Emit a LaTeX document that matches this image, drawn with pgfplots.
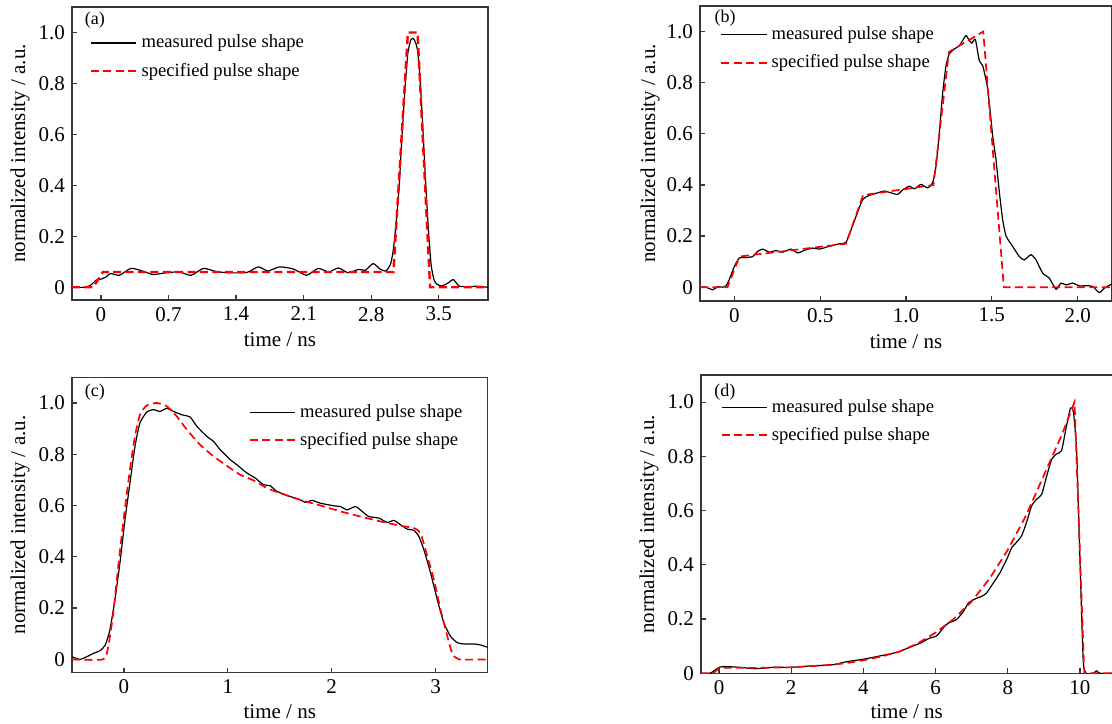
\documentclass[border=0pt]{standalone}
\usepackage{fontspec}
\setmainfont{Liberation Serif}
\usepackage{pgfplots}
\pgfplotsset{compat=1.18}
\definecolor{axisgray}{RGB}{55,55,55}
\pgfplotsset{
  panel/.style={
    scale only axis,
    anchor=south west,
    axis line style={axisgray, line width=0.6pt},
    tick style={axisgray, line width=0.6pt},
    tick align=inside,
    major tick length=2.5pt,
    xtick pos=bottom, ytick pos=left,
    tick label style={font=\fontsize{10.5}{12}\selectfont, black},
    label style={font=\fontsize{10.5}{12}\selectfont},
    ytick={0,0.2,0.4,0.6,0.8,1.0}, yticklabels={0,0.2,0.4,0.6,0.8,1.0},
    ymax=1.1,
    ylabel={normalized intensity / a.u.},
    xlabel={time / ns},
    legend style={draw=none, fill=none, anchor=north west,
      font=\fontsize{9.3}{11}\selectfont, row sep=2pt, inner sep=0pt, outer sep=0pt},
    legend cell align=left,
    legend image code/.code={\draw[##1] (0pt,0pt) -- (22.7pt,0pt);},
  },
  meas/.style={black, line width=0.6pt, smooth, tension=0.35},
  spec/.style={red, line width=0.85pt, dash pattern=on 4pt off 2.2pt},
}
\begin{document}
\begin{tikzpicture}
\useasboundingbox (0,0) rectangle (556pt,361.5pt);
% ---------------- (a)
\begin{axis}[panel, at={(36pt,211.5pt)}, width=208pt, height=146.5pt,
  xmin=-0.3, xmax=4.01, ymin=-0.05,
  xtick={0,0.7,1.4,2.1,2.8,3.5}, xticklabels={0,0.7,1.4,2.1,2.8,3.5},
  ylabel style={at={(axis description cs:-0.125,0.5)}, anchor=center},
  xlabel style={at={(axis description cs:0.5,-0.137)}, anchor=center},
  legend style={at={(axis description cs:0.043,0.918)}},
]
\addplot[meas] coordinates {
(-0.30,0) (-0.16,0) (-0.10,0.01) (-0.05,0.028) (0,0.032) (0.05,0.04) (0.10,0.054) (0.19,0.047) (0.31,0.074) (0.43,0.064) (0.54,0.05) (0.675,0.057) (0.81,0.06) (0.935,0.047) (1.06,0.074) (1.18,0.063) (1.30,0.057) (1.51,0.058) (1.63,0.08) (1.73,0.064) (1.85,0.08) (1.99,0.072) (2.13,0.047) (2.25,0.074) (2.36,0.06) (2.46,0.076) (2.56,0.057) (2.67,0.07) (2.74,0.067) (2.82,0.093) (2.89,0.072) (2.95,0.064) (3.00,0.09) (3.03,0.15) (3.06,0.26) (3.09,0.40) (3.12,0.60) (3.15,0.78) (3.18,0.92) (3.21,0.97) (3.235,0.977) (3.26,0.96) (3.28,0.93) (3.30,0.85) (3.33,0.66) (3.36,0.44) (3.39,0.24) (3.42,0.09) (3.45,0.03) (3.48,0.012) (3.53,0.005) (3.59,0.015) (3.65,0.03) (3.71,0.005) (3.80,0.002) (3.90,0.004) (4.01,0)
};
\addlegendentry{measured pulse shape}
\addplot[spec, line width=1.2pt] coordinates {
(-0.30,0) (-0.08,0) (0.02,0.06) (3.03,0.06) (3.18,1.0) (3.28,1.0) (3.41,0) (4.01,0)
};
\addlegendentry{specified pulse shape}
\node[font=\fontsize{9}{10}\selectfont] at (axis description cs:0.055,0.956) {(a)};
\end{axis}
% ---------------- (b)
\begin{axis}[panel, at={(350pt,211pt)}, width=206pt, height=147.5pt,
  xmin=-0.2, xmax=2.2, ymin=-0.054,
  xtick={0,0.5,1,1.5,2}, xticklabels={0,0.5,1.0,1.5,2.0},
  ylabel style={at={(axis description cs:-0.121,0.5)}, anchor=center},
  xlabel style={at={(axis description cs:0.5,-0.138)}, anchor=center},
  legend style={at={(axis description cs:0.05,0.943)}},
]
\addplot[meas] coordinates {
(-0.20,0) (-0.165,0) (-0.126,-0.01) (-0.097,0.002) (-0.068,0) (-0.049,0.005) (-0.03,0.029) (0,0.081) (0.029,0.114) (0.068,0.116) (0.107,0.12) (0.136,0.14) (0.165,0.149) (0.204,0.137) (0.243,0.143) (0.282,0.137) (0.33,0.149) (0.369,0.134) (0.408,0.144) (0.456,0.153) (0.495,0.149) (0.553,0.16) (0.612,0.17) (0.65,0.175) (0.68,0.225) (0.709,0.277) (0.748,0.343) (0.786,0.359) (0.835,0.369) (0.874,0.376) (0.913,0.369) (0.951,0.363) (0.98,0.38) (1.019,0.395) (1.049,0.385) (1.087,0.402) (1.126,0.389) (1.155,0.408) (1.175,0.474) (1.194,0.605) (1.214,0.762) (1.233,0.866) (1.252,0.912) (1.282,0.932) (1.311,0.945) (1.33,0.965) (1.35,0.984) (1.369,0.965) (1.384,0.955) (1.404,0.969) (1.427,0.886) (1.447,0.866) (1.476,0.775) (1.505,0.592) (1.524,0.5) (1.544,0.37) (1.563,0.264) (1.583,0.2) (1.621,0.16) (1.66,0.12) (1.689,0.107) (1.728,0.127) (1.757,0.107) (1.796,0.055) (1.835,0.035) (1.874,-0.008) (1.903,0.016) (1.932,0.009) (1.971,0.016) (2.01,0.005) (2.049,0.006) (2.087,0.003) (2.126,-0.021) (2.155,-0.004) (2.2,0.013)
};
\addlegendentry{measured pulse shape}
\addplot[spec] coordinates {
(-0.2,0) (-0.04,0) (0.03,0.12) (0.65,0.17) (0.75,0.36) (1.16,0.40) (1.25,0.92) (1.45,1.0) (1.57,0) (2.2,0)
};
\addlegendentry{specified pulse shape}
\node[font=\fontsize{9}{10}\selectfont] at (axis description cs:0.061,0.959) {(b)};
\end{axis}
% ---------------- (c)
\begin{axis}[panel, at={(36pt,25.15pt)}, width=207.8pt, height=147.7pt,
  xmin=-0.5, xmax=3.5, ymin=-0.052,
  xtick={0,1,2,3}, xticklabels={0,1,2,3},
  ylabel style={at={(axis description cs:-0.125,0.5)}, anchor=center},
  xlabel style={at={(axis description cs:0.5,-0.132)}, anchor=center},
  legend style={at={(axis description cs:0.426,0.922)}},
]
\addplot[meas] coordinates {
(-0.5,0.01) (-0.424,0) (-0.36,0.01) (-0.296,0.023) (-0.23,0.034) (-0.18,0.056) (-0.135,0.115) (-0.087,0.232) (-0.039,0.375) (0.01,0.544) (0.058,0.688) (0.106,0.83) (0.154,0.922) (0.219,0.964) (0.283,0.974) (0.347,0.967) (0.412,0.979) (0.476,0.967) (0.556,0.954) (0.637,0.945) (0.701,0.909) (0.797,0.87) (0.862,0.85) (0.926,0.818) (1.022,0.779) (1.087,0.759) (1.183,0.727) (1.264,0.707) (1.344,0.681) (1.408,0.677) (1.473,0.655) (1.601,0.635) (1.698,0.622) (1.746,0.612) (1.81,0.62) (1.891,0.609) (2.019,0.599) (2.084,0.596) (2.148,0.583) (2.228,0.596) (2.293,0.577) (2.357,0.557) (2.453,0.551) (2.534,0.534) (2.598,0.542) (2.662,0.525) (2.727,0.508) (2.791,0.503) (2.839,0.479) (2.887,0.427) (2.952,0.336) (3.016,0.232) (3.08,0.141) (3.145,0.089) (3.209,0.065) (3.273,0.06) (3.37,0.06) (3.434,0.056) (3.5,0.047)
};
\addlegendentry{measured pulse shape}
\addplot[spec, smooth, tension=0.35] coordinates {
(-0.5,0) (-0.2,0) (-0.151,0.05) (-0.103,0.18) (-0.055,0.362) (0,0.557) (0.058,0.74) (0.106,0.87) (0.154,0.954) (0.219,0.99) (0.315,1.0) (0.412,0.987) (0.508,0.948) (0.605,0.896) (0.733,0.837) (0.862,0.792) (0.99,0.755) (1.119,0.72) (1.248,0.698) (1.376,0.668) (1.505,0.648) (1.698,0.622) (1.891,0.6) (2.084,0.577) (2.277,0.557) (2.469,0.538) (2.662,0.521) (2.791,0.512) (2.855,0.492) (2.92,0.401) (2.984,0.31) (3.048,0.193) (3.113,0.089) (3.161,0.023) (3.225,0) (3.5,0)
};
\addlegendentry{specified pulse shape}
\node[font=\fontsize{9}{10}\selectfont] at (axis description cs:0.055,0.95) {(c)};
\end{axis}
% ---------------- (d)
\begin{axis}[panel, at={(350.5pt,24.85pt)}, width=205.7pt, height=149.15pt,
  xmin=-0.5, xmax=10.9, ymin=0,
  xtick={0,2,4,6,8,10}, xticklabels={0,2,4,6,8,10},
  ylabel style={at={(axis description cs:-0.126,0.5)}, anchor=center},
  xlabel style={at={(axis description cs:0.5,-0.129)}, anchor=center},
  legend style={at={(axis description cs:0.048,0.932)}},
]
\addplot[meas] coordinates {
(-0.5,0) (-0.25,0) (-0.11,0.012) (0,0.022) (0.166,0.025) (0.58,0.022) (1.0,0.017) (1.5,0.022) (2.0,0.022) (2.52,0.027) (3.17,0.032) (3.54,0.043) (4.0,0.052) (4.46,0.064) (4.92,0.077) (5.29,0.096) (5.57,0.111) (5.84,0.13) (6.03,0.138) (6.21,0.167) (6.35,0.185) (6.58,0.198) (6.77,0.228) (6.91,0.259) (7.09,0.274) (7.28,0.284) (7.41,0.296) (7.6,0.333) (7.78,0.37) (7.97,0.42) (8.11,0.463) (8.25,0.484) (8.38,0.506) (8.52,0.556) (8.66,0.617) (8.8,0.642) (8.94,0.66) (9.08,0.728) (9.22,0.79) (9.35,0.809) (9.49,0.821) (9.63,0.914) (9.74,0.978) (9.82,0.963) (9.91,0.815) (10.0,0.42) (10.09,0.049) (10.17,0) (10.37,0) (10.46,0.009) (10.55,0) (10.9,0)
};
\addlegendentry{measured pulse shape}
\addplot[spec] coordinates {
(-0.5,0) (-0.16,0) (0,0.02) (1,0.02) (2,0.022) (3,0.03) (3.5,0.037) (4,0.048) (4.5,0.062) (5,0.08) (5.5,0.11) (6,0.15) (6.5,0.2) (7,0.265) (7.5,0.35) (8,0.455) (8.5,0.58) (9,0.73) (9.5,0.88) (9.85,1.0) (10.12,0) (10.9,0)
};
\addlegendentry{specified pulse shape}
\node[font=\fontsize{9}{10}\selectfont] at (axis description cs:0.058,0.944) {(d)};
\end{axis}
\end{tikzpicture}
\end{document}
